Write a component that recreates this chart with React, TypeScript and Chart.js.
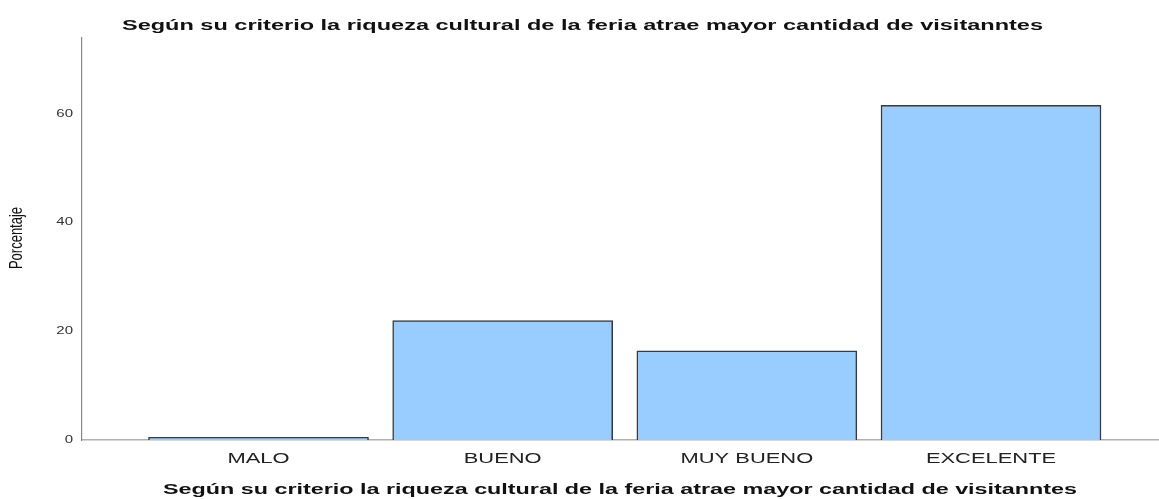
import React, { useEffect, useRef } from "react";
import { Chart, registerables } from "chart.js";

Chart.register(...registerables);

const chartTitle = "Según su criterio la riqueza cultural de la feria atrae mayor cantidad de visitanntes";
const xAxisTitle = "Según su criterio la riqueza cultural de la feria atrae mayor cantidad de visitanntes";
const yAxisTitle = "Porcentaje";
const categories = ["MALO", "BUENO", "MUY BUENO", "EXCELENTE"];
const percentages = [0.5, 22.0, 16.4, 61.6];
const yTickValues = [0, 20, 40, 60];

const FONT = "'Liberation Sans', Arial, sans-serif";

function drawStretched(
  ctx: CanvasRenderingContext2D,
  text: string,
  x: number,
  y: number,
  font: string,
  sx: number,
  align: CanvasTextAlign,
  baseline: CanvasTextBaseline,
  color: string
) {
  ctx.save();
  ctx.font = font;
  ctx.fillStyle = color;
  ctx.textAlign = align;
  ctx.textBaseline = baseline;
  ctx.translate(x, y);
  ctx.scale(sx, 1);
  ctx.fillText(text, 0, 0);
  ctx.restore();
}

function drawFitted(
  ctx: CanvasRenderingContext2D,
  text: string,
  cx: number,
  y: number,
  font: string,
  targetWidth: number,
  color: string
) {
  ctx.save();
  ctx.font = font;
  const w = ctx.measureText(text).width;
  const sx = targetWidth / w;
  ctx.restore();
  drawStretched(ctx, text, cx, y, font, sx, "center", "alphabetic", color);
}

const textPlugin = {
  id: "stretchedText",
  afterDraw(chart: any) {
    const ctx: CanvasRenderingContext2D = chart.ctx;
    const xs = chart.scales.x;
    const ys = chart.scales.y;
    drawFitted(ctx, chartTitle, 582.5, 30, `bold 15px ${FONT}`, 921, "#111");
    drawFitted(ctx, xAxisTitle, 620, 494, `bold 15px ${FONT}`, 914, "#111");
    categories.forEach((c, i) => {
      drawStretched(ctx, c, xs.getPixelForValue(i), 463, `15px ${FONT}`, 1.46, "center", "alphabetic", "#222");
    });
    yTickValues.forEach((v) => {
      drawStretched(ctx, String(v), 73, ys.getPixelForValue(v), `10px ${FONT}`, 1.5, "right", "middle", "#333");
    });
    ctx.save();
    ctx.font = `13px ${FONT}`;
    ctx.fillStyle = "#111";
    ctx.textAlign = "center";
    ctx.textBaseline = "middle";
    ctx.translate(17, 238);
    ctx.scale(1.4, 1);
    ctx.rotate(-Math.PI / 2);
    ctx.fillText(yAxisTitle, 0, 0);
    ctx.restore();
  },
};

export default function App() {
  const canvasRef = useRef<HTMLCanvasElement | null>(null);

  useEffect(() => {
    document.body.style.margin = "0";
    const canvas = canvasRef.current;
    if (!canvas) return;
    const chart = new Chart(canvas, {
      type: "bar",
      data: {
        datasets: [
          {
            label: yAxisTitle,
            data: percentages.map((v, i) => ({ x: i, y: v })),
            backgroundColor: "#99CCFF",
            borderColor: "#3a3a3a",
            borderWidth: 1.5,
            barThickness: 220,
          },
        ],
      },
      options: {
        animation: false,
        responsive: true,
        maintainAspectRatio: false,
        layout: { padding: { left: 82, top: 38, right: 0, bottom: 59 } },
        plugins: {
          legend: { display: false },
          tooltip: { enabled: false },
          title: { display: false },
        },
        scales: {
          x: {
            type: "linear",
            offset: false,
            min: -0.7229,
            max: 3.688,
            grid: { display: false, drawTicks: false, offset: false },
            ticks: { display: false },
            border: { display: true, color: "#b0b0b0", width: 1.5 },
          },
          y: {
            type: "linear",
            min: 0,
            max: 74,
            grid: { display: false, drawTicks: false },
            ticks: { display: false },
            border: { display: true, color: "#888888", width: 1.2 },
          },
        },
      },
      plugins: [textPlugin],
    });
    return () => chart.destroy();
  }, []);

  return (
    <div style={{ position: "relative", width: 1159, height: 499 }}>
      <canvas ref={canvasRef} />
    </div>
  );
}
